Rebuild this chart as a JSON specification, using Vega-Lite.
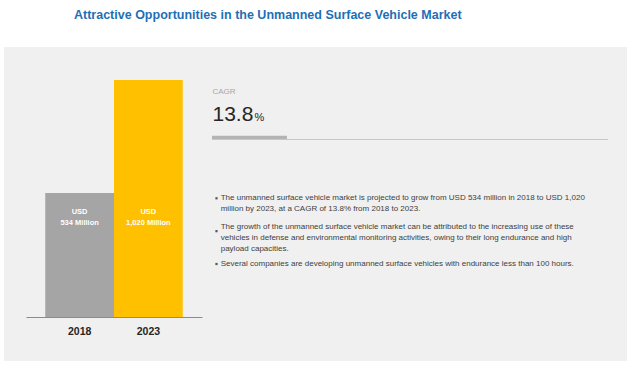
{
  "$schema": "https://vega.github.io/schema/vega-lite/v6.json",
  "width": 623,
  "height": 314,
  "autosize": {"type": "none"},
  "padding": {"left": 4, "top": 47, "right": 7, "bottom": 9},
  "background": "white",
  "config": {
    "view": {"fill": "#f0f0f0", "stroke": null},
    "font": "Liberation Sans, Arial, sans-serif"
  },
  "title": {
    "text": "Attractive Opportunities in the Unmanned Surface Vehicle Market",
    "anchor": "start",
    "dx": 70,
    "offset": 26,
    "fontSize": 12.5,
    "fontWeight": "bold",
    "color": "#1f6fb5",
    "font": "Liberation Sans, Arial, sans-serif"
  },
  "datasets": {
    "market": [
      {"year": "2018", "value": 534, "label": ["USD", "534 Million"]},
      {"year": "2023", "value": 1020, "label": ["USD", "1,020 Million"]}
    ],
    "cagr": [{"metric": "CAGR", "value": 13.8, "pct": "%"}],
    "notes": [
      {"para": 1, "lines": ["The unmanned surface vehicle market is projected to grow from USD 534 million in 2018 to USD 1,020", "million by 2023, at a CAGR of 13.8% from 2018 to 2023."]},
      {"para": 2, "lines": ["The growth of the unmanned surface vehicle market can be attributed to the increasing use of these", "vehicles in defense and environmental monitoring activities, owing to their long endurance and high", "payload capacities."]},
      {"para": 3, "lines": ["Several companies are developing unmanned surface vehicles with endurance less than 100 hours."]}
    ]
  },
  "layer": [
    {
      "data": {"name": "market"},
      "mark": {"type": "bar"},
      "encoding": {
        "x": {
          "field": "year",
          "type": "nominal",
          "scale": {"type": "band", "range": [22, 198], "paddingInner": 0, "paddingOuter": 0.28},
          "axis": {
            "title": null,
            "labelAngle": 0,
            "ticks": false,
            "grid": false,
            "domainColor": "#8c8c8c",
            "domainWidth": 1,
            "labelFontSize": 10.5,
            "labelFontWeight": "bold",
            "labelColor": "#262626",
            "labelPadding": 9,
            "offset": -44
          }
        },
        "y": {"field": "value", "type": "quantitative", "scale": {"domain": [0, 1020], "range": [270, 33], "nice": false}, "axis": null},
        "color": {"field": "year", "type": "nominal", "scale": {"range": ["#a5a5a5", "#ffc000"]}, "legend": null}
      }
    },
    {
      "data": {"name": "market"},
      "mark": {"type": "text", "color": "white", "fontWeight": "bold", "fontSize": 7.5, "lineHeight": 11, "baseline": "top", "align": "center"},
      "encoding": {
        "x": {"field": "year", "type": "nominal", "scale": {"type": "band", "range": [22, 198], "paddingInner": 0, "paddingOuter": 0.28}, "axis": null},
        "y": {"datum": 470, "type": "quantitative", "scale": {"domain": [0, 1020], "range": [270, 33], "nice": false}, "axis": null},
        "text": {"field": "label"}
      }
    },
    {
      "data": {"name": "cagr"},
      "mark": {"type": "rule", "color": "#c8c8c8", "strokeWidth": 1},
      "encoding": {
        "x": {"value": 208},
        "x2": {"value": 604},
        "y": {"value": 92.5}
      }
    },
    {
      "data": {"name": "cagr"},
      "mark": {"type": "rule", "color": "#b4b4b4", "strokeWidth": 3.3, "strokeCap": "butt"},
      "encoding": {
        "x": {"field": "value", "type": "quantitative", "scale": {"domain": [0, 72.9], "range": [208, 604], "nice": false, "zero": false}, "axis": null},
        "x2": {"value": 208},
        "y": {"value": 90.3}
      }
    },
    {
      "data": {"name": "cagr"},
      "mark": {"type": "text", "align": "left", "baseline": "middle", "fontSize": 8, "color": "#a6a6a6"},
      "encoding": {"text": {"field": "metric"}, "x": {"value": 208.5}, "y": {"value": 45.3}}
    },
    {
      "data": {"name": "cagr"},
      "mark": {"type": "text", "align": "left", "baseline": "alphabetic", "fontSize": 21, "color": "#262626"},
      "encoding": {"text": {"field": "value", "type": "quantitative", "format": ".1f"}, "x": {"value": 208.5}, "y": {"value": 73.7}}
    },
    {
      "data": {"name": "cagr"},
      "mark": {"type": "text", "align": "left", "baseline": "alphabetic", "fontSize": 11, "color": "#262626"},
      "encoding": {"text": {"field": "pct"}, "x": {"value": 250.5}, "y": {"value": 73.7}}
    },
    {
      "data": {"name": "notes"},
      "transform": [{"filter": "datum.para == 1"}],
      "mark": {"type": "text", "align": "left", "baseline": "top", "fontSize": 8, "lineHeight": 11, "color": "#404040"},
      "encoding": {"text": {"field": "lines"}, "x": {"value": 216.7}, "y": {"value": 147.2}}
    },
    {
      "data": {"name": "notes"},
      "transform": [{"filter": "datum.para == 2"}],
      "mark": {"type": "text", "align": "left", "baseline": "top", "fontSize": 8, "lineHeight": 11, "color": "#404040"},
      "encoding": {"text": {"field": "lines"}, "x": {"value": 216.7}, "y": {"value": 176.2}}
    },
    {
      "data": {"name": "notes"},
      "transform": [{"filter": "datum.para == 3"}],
      "mark": {"type": "text", "align": "left", "baseline": "top", "fontSize": 8, "lineHeight": 11, "color": "#404040"},
      "encoding": {"text": {"field": "lines"}, "x": {"value": 216.7}, "y": {"value": 212.9}}
    },
    {
      "data": {"name": "notes"},
      "mark": {"type": "square", "filled": true, "size": 5, "color": "#595959", "opacity": 1},
      "encoding": {
        "x": {"value": 212.5},
        "y": {"field": "para", "type": "ordinal", "scale": {"type": "point", "domain": [1, 2, 3], "range": [151.3, 217], "padding": 0}, "axis": null}
      }
    }
  ],
  "resolve": {"scale": {"x": "independent", "y": "independent"}}
}
